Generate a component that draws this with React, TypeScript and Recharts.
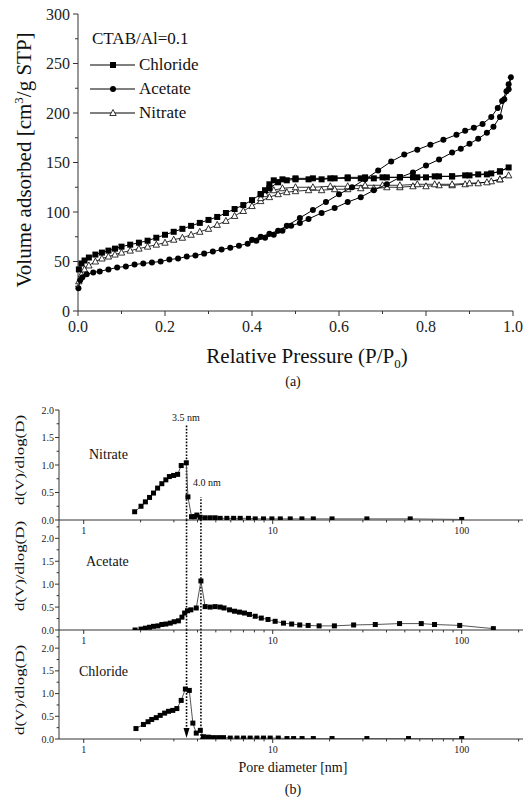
import React from "react";
import { ScatterChart, Scatter, XAxis, YAxis, ReferenceLine, ReferenceDot } from "recharts";

const SERIF = "'Liberation Serif', 'Times New Roman', serif";

// (a) N2 isotherms, adsorption branch followed by desorption branch
const chlorideP = [0.002, 0.008, 0.015, 0.025, 0.04, 0.055, 0.07, 0.085, 0.1, 0.12, 0.14, 0.16, 0.18, 0.2, 0.22, 0.24, 0.26, 0.28, 0.3, 0.32, 0.34, 0.36, 0.38, 0.4, 0.42, 0.44, 0.46, 0.48, 0.5, 0.53, 0.56, 0.59, 0.62, 0.65, 0.68, 0.71, 0.74, 0.77, 0.8, 0.83, 0.86, 0.89, 0.92, 0.95, 0.97, 0.99,
  0.97, 0.94, 0.9, 0.86, 0.82, 0.78, 0.74, 0.7, 0.66, 0.62, 0.58, 0.54, 0.5, 0.47, 0.45, 0.44, 0.43, 0.42];
const chlorideV = [42, 48, 51, 54, 57, 59, 61, 63, 65, 67, 69, 71, 74, 77, 80, 83, 86, 89, 92, 95, 99, 103, 107, 112, 118, 124, 130, 132, 133, 133, 133, 134, 134, 134, 134, 135, 135, 135, 135, 136, 136, 137, 138, 139, 141, 145,
  141, 138, 137, 136, 136, 135, 135, 135, 135, 135, 134, 134, 134, 133, 132, 128, 122, 118];

const acetateP = [0.001, 0.005, 0.01, 0.02, 0.035, 0.05, 0.07, 0.09, 0.11, 0.13, 0.15, 0.17, 0.19, 0.21, 0.23, 0.25, 0.27, 0.29, 0.31, 0.33, 0.35, 0.37, 0.39, 0.41, 0.43, 0.45, 0.47, 0.49, 0.51, 0.53, 0.56, 0.59, 0.62, 0.65, 0.68, 0.71, 0.74, 0.77, 0.8, 0.83, 0.86, 0.88, 0.9, 0.92, 0.94, 0.955, 0.97, 0.98, 0.99, 0.995,
  0.99, 0.985, 0.975, 0.965, 0.95, 0.93, 0.91, 0.89, 0.87, 0.84, 0.81, 0.78, 0.75, 0.72, 0.69, 0.66, 0.63, 0.6, 0.57, 0.54, 0.51, 0.48, 0.46, 0.44, 0.42, 0.4];
const acetateV = [23, 31, 34, 37, 39, 40, 42, 44, 45, 47, 48, 49, 50, 52, 53, 55, 56, 58, 60, 62, 64, 66, 68, 71, 74, 77, 81, 86, 89, 93, 99, 104, 110, 115, 122, 128, 135, 140, 147, 153, 160, 164, 169, 174, 180, 186, 196, 214, 224, 236,
  229, 222, 212, 205, 196, 189, 185, 182, 178, 173, 168, 163, 158, 151, 142, 133, 125, 118, 110, 102, 94, 86, 81, 78, 75, 72];

const nitrateP = [0.002, 0.008, 0.015, 0.025, 0.04, 0.055, 0.07, 0.085, 0.1, 0.12, 0.14, 0.16, 0.18, 0.2, 0.22, 0.24, 0.26, 0.28, 0.3, 0.32, 0.34, 0.36, 0.38, 0.4, 0.42, 0.44, 0.46, 0.48, 0.5, 0.53, 0.56, 0.59, 0.62, 0.65, 0.68, 0.71, 0.74, 0.77, 0.8, 0.83, 0.86, 0.89, 0.92, 0.95, 0.97, 0.99,
  0.97, 0.94, 0.9, 0.86, 0.82, 0.78, 0.74, 0.7, 0.66, 0.62, 0.58, 0.54, 0.5, 0.47, 0.45, 0.43, 0.42];
const nitrateV = [30, 37, 42, 46, 50, 53, 55, 57, 59, 61, 63, 65, 67, 69, 72, 74, 77, 80, 83, 87, 91, 96, 101, 106, 111, 115, 118, 120, 121, 122, 122, 123, 123, 124, 124, 125, 125, 126, 126, 127, 127, 128, 129, 131, 133, 137,
  133, 130, 129, 128, 128, 128, 127, 127, 127, 126, 126, 125, 125, 124, 122, 118, 114];

// (b) pore size distributions
const nitrateD = [1.86, 2.01, 2.12, 2.23, 2.34, 2.46, 2.59, 2.72, 2.84, 2.99, 3.14, 3.28, 3.49, 3.56, 3.72, 3.85, 3.97, 4.13, 4.39, 4.67, 4.96, 5.27, 5.72, 6.21, 6.73, 7.44, 8.08, 8.94, 9.9, 10.97, 12.38, 14.27, 16.4, 20.6, 31.5, 53.4, 100];
const nitrateDV = [0.15, 0.25, 0.33, 0.41, 0.49, 0.58, 0.66, 0.73, 0.79, 0.81, 0.83, 0.99, 1.04, 0.42, 0.06, 0.06, 0.09, 0.05, 0.04, 0.04, 0.04, 0.03, 0.03, 0.03, 0.03, 0.03, 0.02, 0.02, 0.02, 0.02, 0.02, 0.02, 0.02, 0.02, 0.02, 0.02, 0.01];

const acetateD = [1.87, 2.01, 2.12, 2.23, 2.34, 2.47, 2.59, 2.72, 2.87, 3.01, 3.17, 3.31, 3.42, 3.54, 3.69, 3.94, 4.17, 4.39, 4.67, 4.96, 5.27, 5.53, 5.91, 6.28, 6.67, 7.09, 7.53, 8.08, 8.7, 9.44, 10.3, 11.4, 12.6, 13.9, 15.4, 17.6, 21.2, 26.8, 34.9, 46.9, 61.1, 71.8, 97.6, 147];
const acetateDV = [0.0, 0.02, 0.04, 0.06, 0.08, 0.09, 0.12, 0.13, 0.15, 0.18, 0.2, 0.28, 0.37, 0.42, 0.44, 0.48, 1.07, 0.51, 0.5, 0.51, 0.5, 0.48, 0.44, 0.41, 0.39, 0.37, 0.34, 0.3, 0.26, 0.23, 0.19, 0.15, 0.13, 0.11, 0.1, 0.09, 0.09, 0.11, 0.12, 0.14, 0.14, 0.12, 0.1, 0.03];

const chlorideD = [1.89, 2.07, 2.19, 2.29, 2.42, 2.54, 2.68, 2.81, 2.96, 3.11, 3.28, 3.45, 3.62, 3.78, 3.94, 4.14, 4.3, 4.57, 4.86, 5.17, 5.49, 5.96, 6.47, 7.01, 7.6, 8.25, 8.94, 9.7, 10.7, 11.9, 12.9, 14.3, 16.4, 20.6, 31.5, 52.3, 100];
const chlorideDV = [0.23, 0.32, 0.38, 0.43, 0.47, 0.52, 0.57, 0.61, 0.63, 0.67, 0.85, 1.1, 1.07, 0.35, 0.13, 0.19, 0.05, 0.04, 0.03, 0.03, 0.03, 0.02, 0.02, 0.02, 0.02, 0.02, 0.02, 0.02, 0.02, 0.01, 0.01, 0.01, 0.01, 0.01, 0.01, 0.01, 0.01];

const isoXTicks = [0, 0.1, 0.2, 0.3, 0.4, 0.5, 0.6, 0.7, 0.8, 0.9, 1.0];
const isoYTicks = [0, 25, 50, 75, 100, 125, 150, 175, 200, 225, 250, 275, 300];
const logTicks = [1, 2, 3, 4, 5, 6, 7, 8, 9, 10, 20, 30, 40, 50, 60, 70, 80, 90, 100, 200];
const logLabels = [1, 10, 100];
const psdYTicks2 = [0, 0.25, 0.5, 0.75, 1.0, 1.25, 1.5, 1.75, 2.0];
const psdYTicks24 = [0, 0.25, 0.5, 0.75, 1.0, 1.25, 1.5, 1.75, 2.0, 2.25];

const zip = (xs: number[], ys: number[]) => xs.map((x, i) => ({ x, y: ys[i] }));

const Square = (s: number) => (p: any) => (
  <rect x={p.cx - s / 2} y={p.cy - s / 2} width={s} height={s} fill="#000" />
);
const Dot = (p: any) => <circle cx={p.cx} cy={p.cy} r={3} fill="#000" />;
const Tri = (p: any) => (
  <path d={`M${p.cx},${p.cy - 3.5}L${p.cx + 3.2},${p.cy + 2.5}L${p.cx - 3.2},${p.cy + 2.5}Z`} fill="#fff" stroke="#000" strokeWidth={0.8} />
);

const xTick = (isMajor: (v: number) => boolean, fmt: (v: number) => string, size: number, off: number, len = 5) => (props: any) => {
  const { x, y, payload } = props;
  const major = isMajor(payload.value);
  return (
    <g>
      <line x1={x} x2={x} y1={y} y2={y + (major ? len : len * 0.6)} stroke="#333" />
      {major && (
        <text x={x} y={y + off} textAnchor="middle" fontSize={size} fontFamily={SERIF} fill="#222">
          {fmt(payload.value)}
        </text>
      )}
    </g>
  );
};

const yTick = (isMajor: (v: number) => boolean, fmt: (v: number) => string, size: number, gap: number, len = 5) => (props: any) => {
  const { x, y, payload } = props;
  const major = isMajor(payload.value);
  return (
    <g>
      <line x1={x} x2={x - (major ? len : len * 0.6)} y1={y} y2={y} stroke="#333" />
      {major && (
        <text x={x - gap} y={y} dy="0.35em" textAnchor="end" fontSize={size} fontFamily={SERIF} fill="#222">
          {fmt(payload.value)}
        </text>
      )}
    </g>
  );
};

const Txt = ({ x, y, size, children, rotate = false, left = false, sx = 1 }: any) => (
  <div
    style={{
      position: "absolute",
      left: x,
      top: y,
      transform: `translate(${left ? "0" : "-50%"},-50%) ${rotate ? "rotate(-90deg)" : ""} scaleX(${sx})`,
      fontSize: size,
      fontFamily: SERIF,
      whiteSpace: "nowrap",
      lineHeight: 1,
      color: "#111",
    }}
  >
    {children}
  </div>
);

const LegendRow = ({ y, shape, label }: any) => (
  <div style={{ position: "absolute", left: 90, top: y - 7, height: 14, display: "flex", alignItems: "center" }}>
    <svg width={46} height={14}>
      <line x1={0} x2={45} y1={7} y2={7} stroke="#000" strokeWidth={1.2} />
      {shape === "square" && <rect x={20} y={4} width={6} height={6} fill="#000" />}
      {shape === "circle" && <circle cx={23} cy={7} r={3} fill="#000" />}
      {shape === "tri" && <path d="M23,3.5L26.2,9.5L19.8,9.5Z" fill="#fff" stroke="#000" strokeWidth={0.8} />}
    </svg>
    <span style={{ fontFamily: SERIF, fontSize: 17, marginLeft: 3, color: "#111" }}>{label}</span>
  </div>
);

const isEven10 = (v: number) => Math.round(v * 10) % 2 === 0;
const isMajor50 = (v: number) => v % 50 === 0;
const isHalf = (v: number) => Math.round(v * 100) % 50 === 0;
const isDecade = (v: number) => logLabels.includes(v);

function PsdPanel({ top, plotH, yMax, yTicks, data, children }: any) {
  return (
    <div style={{ position: "absolute", left: 0, top: top - 10 }}>
      <ScatterChart width={532} height={plotH + 35} margin={{ top: 10, right: 9, left: 0, bottom: 0 }}>
        <XAxis
          dataKey="x"
          type="number"
          scale="log"
          domain={[0.74, 211]}
          allowDataOverflow
          ticks={logTicks}
          interval={0}
          height={25}
          tickSize={0}
          tickMargin={0}
          tickLine={false}
          axisLine={{ stroke: "#333" }}
          tick={xTick(isDecade, (v) => String(v), 10, 14, 4)}
        />
        <XAxis xAxisId="top" orientation="top" dataKey="x" type="number" scale="log" domain={[0.74, 211]} height={0} tick={false} tickLine={false} axisLine={{ stroke: "#333" }} />
        <YAxis
          dataKey="y"
          type="number"
          domain={[0, yMax]}
          allowDataOverflow
          ticks={yTicks}
          interval={0}
          width={59}
          tickSize={0}
          tickMargin={0}
          tickLine={false}
          axisLine={{ stroke: "#333" }}
          tick={yTick(isHalf, (v) => v.toFixed(1), 10, 5, 4)}
        />
        <YAxis yAxisId="right" orientation="right" dataKey="y" type="number" domain={[0, yMax]} width={0} tick={false} tickLine={false} axisLine={{ stroke: "#333" }} />
        <Scatter
          data={data}
          shape={Square(5)}
          line={{ stroke: "#555", strokeWidth: 1 }}
          isAnimationActive={false}
        />
        {children}
      </ScatterChart>
    </div>
  );
}

const dotted = { stroke: "#000", strokeWidth: 1.6, strokeDasharray: "1.6 1.6" };

export default function App() {
  return (
    <div style={{ position: "absolute", left: 0, top: 0, width: 532, height: 803, background: "#fff", overflow: "hidden" }}>
      {/* (a) isotherms */}
      <div style={{ position: "absolute", left: 0, top: 0 }}>
        <ScatterChart width={532} height={340} margin={{ top: 14, right: 19, left: 38, bottom: 0 }}>
          <XAxis
            dataKey="x"
            type="number"
            domain={[0, 1]}
            ticks={isoXTicks}
            interval={0}
            height={29}
            tickSize={0}
            tickMargin={0}
            tickLine={false}
            axisLine={{ stroke: "#333" }}
            tick={xTick(isEven10, (v) => v.toFixed(1), 16, 21)}
          />
          <XAxis xAxisId="top" orientation="top" dataKey="x" type="number" domain={[0, 1]} height={0} tick={false} tickLine={false} axisLine={{ stroke: "#333" }} />
          <YAxis
            dataKey="y"
            type="number"
            domain={[0, 300]}
            ticks={isoYTicks}
            interval={0}
            width={40}
            tickSize={0}
            tickMargin={0}
            tickLine={false}
            axisLine={{ stroke: "#333" }}
            tick={yTick(isMajor50, (v) => String(v), 16, 8)}
          />
          <YAxis yAxisId="right" orientation="right" dataKey="y" type="number" domain={[0, 300]} width={0} tick={false} tickLine={false} axisLine={{ stroke: "#333" }} />
          <Scatter data={zip(nitrateP, nitrateV)} shape={Tri} line={{ stroke: "#000", strokeWidth: 0.8 }} isAnimationActive={false} />
          <Scatter data={zip(acetateP, acetateV)} shape={Dot} line={{ stroke: "#000", strokeWidth: 1 }} isAnimationActive={false} />
          <Scatter data={zip(chlorideP, chlorideV)} shape={Square(6)} line={{ stroke: "#000", strokeWidth: 1 }} isAnimationActive={false} />
        </ScatterChart>
      </div>
      <Txt x={92} y={38} size={17} left>CTAB/Al=0.1</Txt>
      <LegendRow y={65} shape="square" label="Chloride" />
      <LegendRow y={89} shape="circle" label="Acetate" />
      <LegendRow y={113} shape="tri" label="Nitrate" />
      <Txt x={23} y={160} size={21} rotate>
        Volume adsorbed [cm<sup style={{ fontSize: 13 }}>3</sup>/g STP]
      </Txt>
      <Txt x={307} y={358} size={21}>
        Relative Pressure (P/P<sub style={{ fontSize: 13 }}>0</sub>)
      </Txt>
      <Txt x={293} y={382} size={14}>(a)</Txt>

      {/* (b) pore size distributions */}
      <PsdPanel top={410} plotH={110} yMax={2.0} yTicks={psdYTicks2} data={zip(nitrateD, nitrateDV)}>
        <ReferenceLine segment={[{ x: 3.5, y: 0 }, { x: 3.5, y: 1.72 }]} {...dotted} />
        <ReferenceLine segment={[{ x: 4.17, y: 0 }, { x: 4.17, y: 0.42 }]} {...dotted} />
      </PsdPanel>
      <PsdPanel top={520} plotH={110} yMax={2.4} yTicks={psdYTicks24} data={zip(acetateD, acetateDV)}>
        <ReferenceLine x={3.5} {...dotted} />
        <ReferenceLine x={4.17} {...dotted} />
      </PsdPanel>
      <PsdPanel top={630} plotH={109} yMax={2.4} yTicks={psdYTicks24} data={zip(chlorideD, chlorideDV)}>
        <ReferenceLine segment={[{ x: 3.5, y: 0.2 }, { x: 3.5, y: 2.4 }]} {...dotted} />
        <ReferenceLine x={4.17} {...dotted} />
        <ReferenceDot
          x={3.5}
          y={0}
          shape={(p: any) => <path d={`M${p.cx - 3},${p.cy - 11}L${p.cx + 3},${p.cy - 11}L${p.cx},${p.cy - 1}Z`} fill="#000" />}
        />
      </PsdPanel>

      <Txt x={186} y={418} size={10}>3.5 nm</Txt>
      <Txt x={207} y={483} size={10}>4.0 nm</Txt>
      <Txt x={89} y={455} size={14} left>Nitrate</Txt>
      <Txt x={86} y={562} size={14} left>Acetate</Txt>
      <Txt x={79} y={672} size={14} left>Chloride</Txt>
      <Txt x={19} y={460} size={13} rotate sx={1.3}>d(V)/dlog(D)</Txt>
      <Txt x={19} y={566} size={13} rotate sx={1.3}>d(V)/dlog(D)</Txt>
      <Txt x={19} y={690} size={13} rotate sx={1.3}>d(V)/dlog(D)</Txt>
      <Txt x={293} y={768} size={14}>Pore diameter [nm]</Txt>
      <Txt x={293} y={790} size={14}>(b)</Txt>
    </div>
  );
}
